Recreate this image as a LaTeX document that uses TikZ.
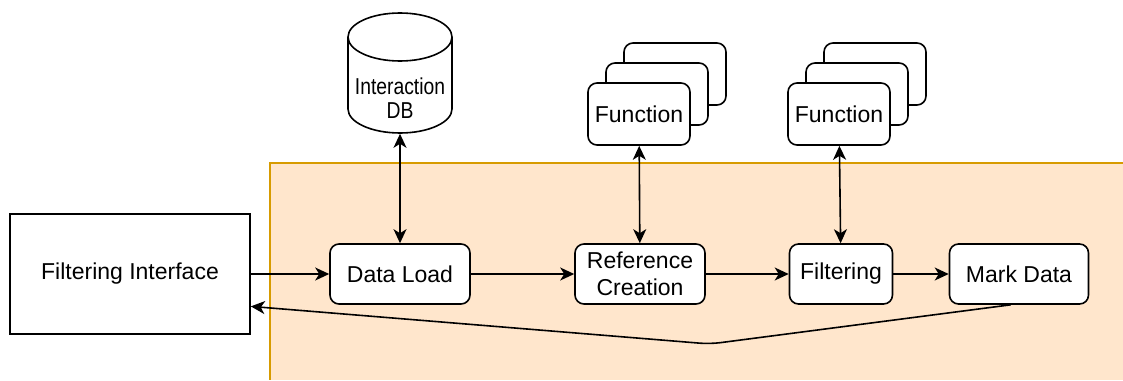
\documentclass[tikz,border=0pt]{standalone}
\usepackage{fontspec}
\setmainfont{Liberation Sans}
\newfontfamily\narrowfont[FakeStretch=0.84]{Liberation Sans}
\usetikzlibrary{arrows.meta}
\definecolor{regionfill}{HTML}{FFE6CC}
\definecolor{regionline}{HTML}{D79B00}

\begin{document}
\begin{tikzpicture}[x=1pt,y=-1pt,line width=1.6pt,font=\fontsize{23}{27}\selectfont,
                   box/.style={draw,fill=white,rounded corners=9pt,minimum width=#1,minimum height=60pt,align=center,inner sep=0pt},
                   func/.style={box=102pt,minimum height=62pt},
                   lid/.style={x radius=52pt,y radius=24pt},
                   tip/.tip={Stealth[length=14pt,width=13pt,inset=4pt]},
                   link/.style={-tip}, both/.style={tip-tip}]
\useasboundingbox (0,0) rectangle (1123,380);
\fill[regionfill] (270,163) rectangle (1123,380);
\draw[regionline] (1123,163) -| (270,380);

\node[draw,minimum width=240pt,minimum height=120pt,inner sep=0pt] (fi) at (130,274) {Filtering Interface};
\node[box=140pt] (load) at (400,274) {Data Load};
\node[box=130pt] (ref) at (640,274) {Reference\\Creation};
\node[box=103pt] (filt) at (841,274) {Filtering};
\node[box=139pt] (mark) at (1019,274) {Mark Data};

% interaction db
\node[minimum width=104pt,minimum height=120pt,inner sep=0pt] (db) at (400,73) {};
\draw[fill=white] (348,37) -- (348,109) arc[start angle=180,end angle=360,lid] -- (452,37)
  arc[start angle=0,end angle=180,lid] -- cycle;
\draw (348,37) arc[start angle=180,end angle=360,lid];
\node[align=center,font=\narrowfont\fontsize{23}{24}\selectfont] (dbtext) at (400,98) {Interaction\\DB};

\foreach \x/\n in {639/fa,839/fb}{
  \node[func] (\n-back) at (\x+36,74) {};
  \node[func] (\n-mid) at (\x+18,94) {};
  \node[func] (\n) at (\x,114) {Function};
}

\draw[both] (db) -- (load);
\draw[both] (fa) -- (ref);
\draw[both] (fb) -- (filt);
\draw[link] (fi) -- (load);
\draw[link] (load) -- (ref);
\draw[link] (ref) -- (filt);
\draw[link] (filt) -- (mark);
\coordinate (dip) at (710,344);
\draw[link,rounded corners=10pt] (mark.-105) -- (dip) -- (fi.-15.4);
\end{tikzpicture}
\end{document}
